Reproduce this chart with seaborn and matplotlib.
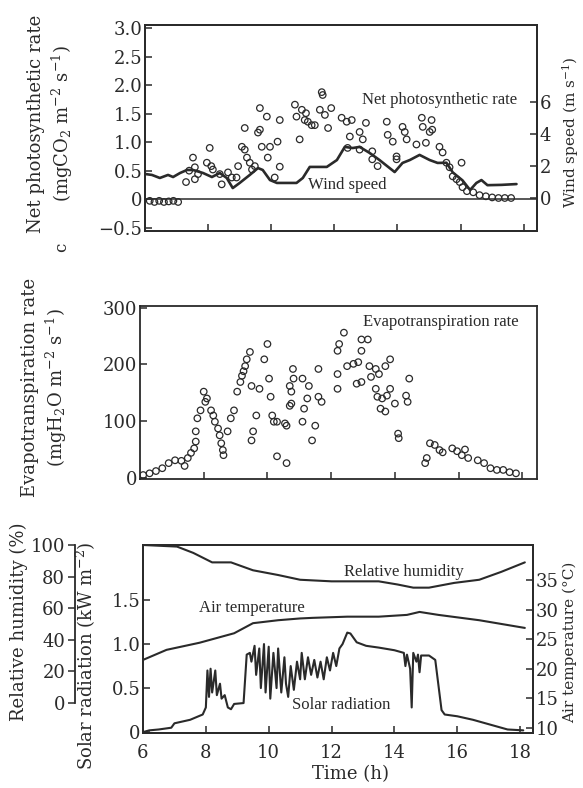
import matplotlib
matplotlib.use("Agg")
import matplotlib.pyplot as plt
import seaborn as sns
import pandas as pd

# ---- panel 1: net photosynthetic rate (circles) + wind speed (line)
npr_time = [6.15, 6.3, 6.45, 6.6, 6.75, 6.9, 7.05, 7.3, 7.4,
            7.52, 7.58, 7.68, 7.58, 7.96, 8.05, 8.1, 8.15, 8.37, 8.43, 8.63, 8.75, 8.9, 8.95,
            9.07, 9.16, 9.23, 9.32, 9.39, 9.48, 9.64, 9.86, 9.64, 9.58, 9.16, 9.7, 9.89, 9.96,
            10.2, 10.27, 10.27, 10.11, 10.75, 10.8, 10.9, 10.97, 11.06, 11.16, 11.28, 11.38, 11.1,
            11.6, 11.63, 11.54, 11.7, 11.9, 11.8, 12.23, 12.39, 12.55, 12.49, 12.8, 13.0, 12.9,
            12.42, 12.8, 13.2, 13.2, 13.37, 13.66, 13.69, 13.85, 13.97, 13.97, 14.16, 14.29, 14.23,
            14.77, 15.08, 15.02, 14.6, 14.9, 14.8, 15.1, 15.33, 15.43, 15.55, 15.65, 16.03, 15.75,
            15.87, 15.97, 16.06, 16.2, 16.4, 16.6, 16.8, 17.0, 17.2, 17.4, 17.6]
npr_value = [-0.03, -0.05, -0.03, -0.05, -0.04, -0.03, -0.05, 0.3, 0.5,
             0.73, 0.56, 0.44, 0.35, 0.64, 0.9, 0.58, 0.52, 0.44, 0.26, 0.47, 0.38, 0.38, 0.58,
             0.92, 0.87, 0.73, 0.64, 0.52, 0.58, 1.6, 1.45, 1.22, 1.17, 1.25, 0.92, 0.73, 0.92,
             1.01, 0.57, 1.39, 0.38, 1.66, 1.45, 1.05, 1.57, 1.39, 1.36, 1.3, 1.3, 1.51,
             1.88, 1.83, 1.57, 1.48, 1.6, 1.25, 1.43, 1.36, 1.39, 1.1, 1.18, 1.34, 1.05,
             0.9, 0.87, 0.84, 0.7, 0.58, 1.36, 1.13, 1.01, 0.75, 0.7, 1.27, 1.05, 1.18,
             1.43, 1.39, 1.18, 0.96, 0.99, 1.27, 1.22, 0.92, 0.82, 0.64, 0.56, 0.64, 0.4,
             0.35, 0.3, 0.21, 0.14, 0.12, 0.07, 0.05, 0.03, 0.02, 0.02, 0.02]

wind_time = [6.0, 6.22, 6.47, 6.73, 6.89, 7.11, 7.33, 7.52, 7.84, 8.12, 8.37, 8.59, 8.78, 9.0,
             9.32, 9.58, 9.73, 9.96, 10.18, 10.8, 11.0, 11.22, 11.76, 12.08, 12.33, 12.58, 12.8,
             13.12, 13.43, 13.91, 14.16, 14.39, 14.7, 15.02, 15.27, 15.55, 15.75, 16.06, 16.3,
             16.5, 16.66, 16.85, 17.3, 17.77]
wind_speed = [1.5, 1.44, 1.25, 1.44, 1.31, 1.56, 1.75, 1.75, 1.56, 1.31, 1.56, 1.25, 0.62, 0.94,
              1.44, 1.87, 1.75, 1.12, 0.94, 0.94, 1.25, 1.94, 1.94, 2.37, 3.19, 3.12, 3.19,
              2.81, 2.37, 1.62, 2.19, 2.37, 2.69, 2.37, 2.19, 2.2, 1.6, 1.1, 0.5,
              0.94, 1.12, 0.8, 0.82, 0.87]

# ---- panel 2: evapotranspiration rate
et_time = [6.1, 6.3, 6.5, 6.7, 6.9, 7.1, 7.3, 7.4, 7.5, 7.6, 7.7, 7.75, 7.75, 7.8, 7.9, 8.05,
           8.0, 8.1, 8.23, 8.3, 8.35, 8.45, 8.5, 8.55, 8.6, 8.62, 8.75, 8.85, 8.95, 9.05, 9.15,
           9.2, 9.25, 9.3, 9.35, 9.45, 9.5, 9.55, 9.5, 9.65, 9.75, 9.9, 10.0, 10.05, 10.1, 10.15,
           10.2, 10.3, 10.6, 10.55, 10.7, 10.75, 10.8, 10.82, 10.7, 10.75, 10.3, 10.6, 11.1,
           11.3, 11.25, 11.15, 11.1, 11.5, 11.6, 11.6, 11.7, 11.4, 12.2, 12.25, 12.4, 12.2, 12.2,
           12.5, 12.7, 12.8, 12.95, 12.85, 12.95, 13.15, 12.95, 13.2, 13.25, 13.4, 13.5, 13.7,
           13.85, 13.4, 13.45, 13.6, 13.75, 13.85, 13.55, 13.7, 14.0, 14.35, 14.45, 14.4, 14.1,
           14.12, 15.0, 14.95, 15.1, 15.25, 15.4, 15.5, 15.8, 15.95, 16.1, 16.2, 16.3, 16.6,
           16.8, 17.0, 17.2, 17.4, 17.6, 17.8]
et_value = [5, 8, 12, 17, 26, 31, 30, 21, 35, 44, 52, 64, 82, 105, 119, 134,
            152, 140, 119, 110, 99, 87, 75, 61, 49, 40, 82, 105, 119, 152, 169,
            180, 188, 197, 209, 222, 162, 82, 66, 110, 157, 209, 236, 175, 143, 110,
            99, 38, 26, 96, 127, 152, 192, 175, 162, 131, 99, 92, 175,
            162, 140, 122, 99, 92, 192, 143, 134, 66, 224, 236, 256, 183, 157,
            197, 201, 166, 169, 204, 244, 244, 224, 197, 178, 192, 183, 197,
            209, 157, 143, 140, 145, 157, 122, 117, 131, 145, 175, 134, 78,
            70, 35, 26, 61, 58, 49, 45, 52, 47, 40, 50, 35, 31,
            26, 17, 14, 14, 10, 8]

# ---- panel 3: relative humidity, air temperature, solar radiation
rh_time = [6.0, 7.08, 7.6, 8.2, 8.8, 9.5, 10.3, 11.0, 12.0, 13.5, 14.1, 14.6, 15.1, 15.9,
           16.7, 17.4, 18.15]
rh_value = [100, 99, 95, 89, 89, 84, 81, 78, 77, 77, 75, 73, 73, 76, 78, 83, 89]

temp_time = [6.0, 6.75, 7.8, 8.9, 9.5, 10.3, 11.0, 11.4, 12.5, 13.5, 14.4, 14.8, 15.4, 16.7,
             18.15]
temp_value = [21.5, 23.2, 24.4, 26.0, 27.7, 28.2, 28.5, 28.6, 28.8, 28.8, 29.1, 29.6, 29.1,
              28.2, 26.9]

solar_time = [6.0, 6.2, 6.5, 6.9, 7.0, 7.5, 7.9, 8.0, 8.05, 8.1, 8.15, 8.2, 8.3, 8.35, 8.45,
              8.5, 8.6, 8.7, 8.8, 8.9, 9.2, 9.3, 9.4, 9.45, 9.55, 9.6, 9.7, 9.75, 9.85, 9.9,
              10.0, 10.05, 10.15, 10.25, 10.3, 10.4, 10.5, 10.55, 10.62, 10.7, 10.8, 10.9,
              11.0, 11.05, 11.15, 11.25, 11.35, 11.45, 11.55, 11.65, 11.75, 11.85, 11.95,
              12.05, 12.15, 12.25, 12.35, 12.5, 12.6, 12.8, 13.1, 13.5, 14.0, 14.3, 14.35,
              14.4, 14.5, 14.55, 14.6, 14.7, 14.75, 14.8, 14.85, 15.1, 15.3, 15.5, 15.6, 16.0,
              16.5, 17.0, 17.6, 18.1]
solar_value = [0.0, 0.02, 0.03, 0.05, 0.1, 0.14, 0.2, 0.28, 0.7, 0.4, 0.72, 0.45, 0.7, 0.42,
               0.55, 0.38, 0.42, 0.28, 0.26, 0.32, 0.33, 0.88, 0.9, 0.8, 0.98, 0.65, 0.95,
               0.5, 1.0, 0.45, 0.97, 0.38, 0.9, 0.5, 0.95, 0.45, 0.85, 0.55, 0.4, 0.75, 0.48,
               0.8, 0.6, 0.9, 0.6, 0.85, 0.65, 0.82, 0.62, 0.8, 0.6, 0.85, 0.7,
               0.9, 0.75, 0.95, 1.0, 1.13, 1.12, 1.02, 0.98, 0.96, 0.93, 0.9, 0.75,
               0.88, 0.72, 0.28, 0.9, 0.8, 0.88, 0.68, 0.87, 0.87, 0.82, 0.25, 0.2, 0.18,
               0.14, 0.09, 0.03, 0.02]

hour_ticks = [6, 8, 10, 12, 14, 16, 18]

sns.set_style("ticks")
plt.rcParams["font.family"] = ["DejaVu Serif"]
plt.rcParams["mathtext.fontset"] = "dejavuserif"
plt.rcParams["xtick.direction"] = "in"
plt.rcParams["ytick.direction"] = "in"

INK = "#2a2a2a"
TICK_FS = 13
LAB_FS = 13
SIDE_FS = 11
ANN = dict(family="Liberation Serif", fontsize=12, color=INK)

W, H = 583, 788
fig = plt.figure(figsize=(W / 100, H / 100), dpi=100)


def box(l, t, r, b):
    return [l / W, 1 - b / H, (r - l) / W, (b - t) / H]


def style(ax):
    for s in ax.spines.values():
        s.set_color(INK)
        s.set_linewidth(1.3)
    ax.tick_params(colors=INK, labelsize=TICK_FS, length=5, width=1.1, pad=2)


# ---------------- panel 1
ax1 = fig.add_axes(box(145, 25, 537, 231))
ax1w = ax1.twinx()
ax1.axhline(0, color=INK, lw=1.1)
sns.scatterplot(x=npr_time, y=npr_value, ax=ax1, marker="o", s=22,
                facecolor="none", edgecolor=INK, linewidth=0.9)
sns.lineplot(x=wind_time, y=wind_speed, ax=ax1w, color=INK, lw=1.9,
             sort=False, estimator=None)
ax1.set_xlim(6, 18.42)
ax1.set_ylim(-0.56, 3.06)
ax1w.set_ylim(-2.06, 10.8)
ax1.set_xticks(hour_ticks[1:])
ax1.set_xticklabels([])
ax1.set_yticks([-0.5, 0, 0.5, 1.0, 1.5, 2.0, 2.5, 3.0])
ax1.set_yticklabels(["\u22120.5", "0", "0.5", "1.0", "1.5", "2.0", "2.5", "3.0"])
ax1w.set_yticks([0, 2, 4, 6])
ax1.set_ylabel("Net photosynthetic rate\n(mgCO$_2$ m$^{-2}$ s$^{-1}$)", fontsize=LAB_FS,
               color=INK, linespacing=1.25)
ax1.yaxis.set_label_coords(-0.178, 0.52)
ax1w.set_ylabel("Wind speed (m s$^{-1}$)", fontsize=SIDE_FS, color=INK, rotation=90)
ax1w.yaxis.set_label_coords(1.06, 0.48)
ax1.text(17.8, 1.74, "Net photosynthetic rate", ha="right", va="center", **ANN)
ax1.text(12.4, 0.25, "Wind speed", ha="center", va="center", **ANN)
fig.text(62 / W, 1 - 247 / H, "c", rotation=90, ha="center", va="center",
         fontsize=12, color=INK)
style(ax1)
style(ax1w)

# ---------------- panel 2
ax2 = fig.add_axes(box(140, 306, 537, 479))
sns.scatterplot(x=et_time, y=et_value, ax=ax2, marker="o", s=22,
                facecolor="none", edgecolor=INK, linewidth=0.9)
ax2.set_xlim(6, 18.46)
ax2.set_ylim(-2, 303)
ax2.set_xticks(hour_ticks[1:])
ax2.set_xticklabels([])
ax2.set_yticks([0, 100, 200, 300])
ax2.set_ylabel("Evapotranspiration rate\n(mgH$_2$O m$^{-2}$ s$^{-1}$)", fontsize=LAB_FS,
               color=INK, linespacing=1.25)
ax2.yaxis.set_label_coords(-0.179, 0.53)
ax2.text(17.87, 274, "Evapotranspiration rate", ha="right", va="center", **ANN)
style(ax2)

# ---------------- panel 3
ax3 = fig.add_axes(box(143, 545, 533, 733))
ax3t = ax3.twinx()
ax3rh = ax3.twinx()
sns.lineplot(x=solar_time, y=solar_value, ax=ax3, color=INK, lw=1.5,
             sort=False, estimator=None)
sns.lineplot(x=temp_time, y=temp_value, ax=ax3t, color=INK, lw=1.5,
             sort=False, estimator=None)
sns.lineplot(x=rh_time, y=rh_value, ax=ax3rh, color=INK, lw=1.5,
             sort=False, estimator=None)
ax3.set_xlim(6, 18.41)
ax3.set_ylim(-0.01, 2.125)
ax3t.set_ylim(9.16, 40.9)
ax3rh.set_ylim(-19, 100)
ax3.set_xticks(hour_ticks)
ax3.set_yticks([0, 0.5, 1.0, 1.5])
ax3.set_yticklabels(["0", "0.5", "1.0", "1.5"])
ax3t.set_yticks([10, 15, 20, 25, 30, 35])
ax3rh.set_yticks([0, 20, 40, 60, 80, 100])

ax3rh.spines["right"].set_visible(False)
ax3rh.spines["top"].set_visible(False)
ax3rh.spines["bottom"].set_visible(False)
ax3rh.spines["left"].set_visible(True)
ax3rh.spines["left"].set_position(("outward", 49))
ax3rh.spines["left"].set_bounds(0, 100)
ax3rh.yaxis.tick_left()
ax3rh.yaxis.set_label_position("left")

ax3.set_xlabel("Time (h)", fontsize=LAB_FS, color=INK)
ax3.xaxis.set_label_coords(0.533, -0.17)
ax3.set_ylabel("Solar radiation (kW m$^{-2}$)", fontsize=LAB_FS, color=INK)
ax3.yaxis.set_label_coords(-0.115, 0.41)
ax3rh.set_ylabel("Relative humidity (%)", fontsize=LAB_FS, color=INK)
ax3rh.yaxis.set_label_coords(-0.295, 0.59)
ax3t.set_ylabel("Air temperature (\u00b0C)", fontsize=SIDE_FS, color=INK, rotation=90)
ax3t.yaxis.set_label_coords(1.075, 0.48)

ax3.text(14.31, 1.82, "Relative humidity", ha="center", va="center", **ANN)
ax3.text(9.47, 1.41, "Air temperature", ha="center", va="center", **ANN)
ax3.text(12.3, 0.31, "Solar radiation", ha="center", va="center", **ANN)
style(ax3)
style(ax3t)
style(ax3rh)
ax3.tick_params(axis="x", pad=8)
ax3rh.tick_params(axis="y", direction="out")

fig.savefig("out.png", dpi=100, facecolor="white")
